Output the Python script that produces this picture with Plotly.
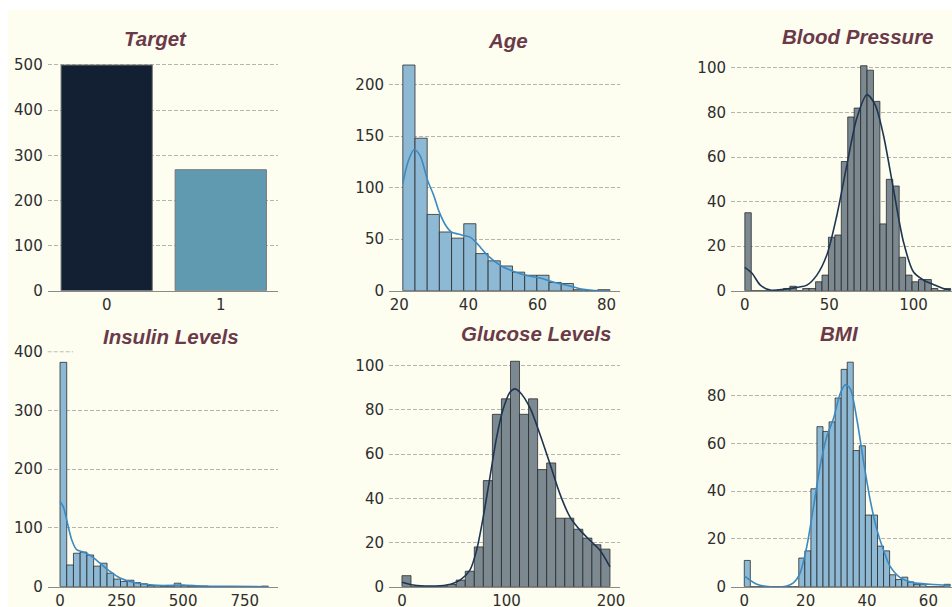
import numpy as np
import plotly.graph_objects as go

W, H = 952, 607
BG = "#FDFDF0"

# ---------------- data ----------------
target_classes = [0, 1]
target_labels = ["0", "1"]
target_counts = [500, 268]

age_limits = (21, 81)
age_counts = [219, 148, 74, 57, 51, 65, 36, 29, 24, 18, 15, 15, 8, 7, 1, 0, 1]
age_kde_x = [21, 22.5, 24.3, 26, 28.2, 30, 31.6, 33.5, 35, 37, 38.8, 40.5, 41.7,
             43.5, 45.6, 49.5, 53.3, 57.2, 61, 65, 68.8, 72.7, 76.5, 81]
age_kde_y = [104, 125, 137, 131, 107, 92, 76, 63, 57, 55, 53.5, 52, 48.6,
             42, 34, 24, 18.5, 14.6, 12, 8, 5, 1.6, 0.2, 0]

bp_limits = (0, 122)
bp_counts = [35, 0, 0, 0, 0, 0, 1, 2, 0, 1, 1, 4, 7, 24, 25, 58, 78, 82, 101, 99,
             85, 30, 50, 47, 15, 7, 4, 5, 5, 1, 0, 1]
bp_kde_x = [0, 4.3, 9.2, 15.1, 23, 30.9, 36.8, 42.7, 48.6, 54.6, 60.5, 66.4, 72.3,
            77.2, 82.1, 88, 94, 99.9, 105.8, 111.7, 117.6, 122]
bp_kde_y = [10.5, 7.8, 2.5, 0.3, 0.6, 1.5, 2.5, 7, 16, 34, 56.5, 77.5, 88,
            83.5, 70, 46, 22, 8.5, 4.8, 2.8, 1, 0.3]

ins_limits = (0, 846)
ins_counts = [382, 37, 57, 59, 54, 35, 40, 23, 13, 9, 11, 7, 5, 2, 2, 1, 1, 6, 2, 1,
              1, 1, 0, 0, 0, 0, 0, 0, 0, 0, 1]
ins_kde_x = [0, 13.5, 27, 47.4, 67.7, 94.8, 128.6, 162.4, 203, 243.6, 284, 338,
             392.6, 460, 500.6, 581.8, 690, 846]
ins_kde_y = [145, 136, 114, 80, 63, 59, 51.6, 40, 26, 14.7, 9, 4.5,
             2.3, 2.3, 2.8, 1, 0.5, 0]

glu_limits = (0, 199)
glu_counts = [5, 0, 0, 0, 0, 1, 3, 7, 18, 48, 78, 85, 102, 78, 85, 53, 56, 31, 31,
              26, 22, 19, 17]
glu_kde_x = [0, 10.8, 26.8, 42.7, 55.5, 65, 71.4, 77.8, 84.2, 90.6, 96.9, 103.3,
             108.1, 112.9, 122.4, 132, 141.6, 151.1, 160.7, 170.3, 179.8, 189.4, 199]
glu_kde_y = [2, 0.75, 0.3, 0.75, 3, 7.5, 16.5, 31.6, 49.6, 67.7, 80.5, 88,
             89.5, 88, 81, 69, 55.6, 42, 31.6, 25.6, 21, 16.5, 9]

bmi_limits = (0, 67.1)
bmi_counts = [11, 0, 0, 0, 0, 0, 0, 0, 0, 12, 15, 41, 67, 65, 69, 79, 91, 94, 57,
              59, 30, 30, 17, 15, 5, 3, 4, 2, 1, 1, 0, 0, 0, 1]
bmi_kde_x = [0, 4.1, 8.5, 13.9, 16.1, 18.2, 20.4, 22.6, 24.7, 26.9, 29.1, 31.3,
             32.9, 34.5, 36.7, 38.8, 41, 43.2, 45.3, 47.5, 50.8, 55.1, 60.5, 64.9, 67.1]
bmi_kde_y = [4.5, 1, 0, 0.3, 1.7, 5.8, 17, 33.7, 50.4, 62.9, 70.5, 81,
             84.5, 83, 70, 53, 36.5, 24, 15.6, 8.6, 3.8, 1.7, 1, 0.7, 0.5]

# ---------------- styling ----------------
TITLE_COLOR = "#6B3A49"
TICK_FONT = dict(family="DejaVu Sans", size=15, color="#2E2E2E")
GRID = dict(gridcolor="rgba(110,110,110,0.5)", gridwidth=1, griddash="4px,2px")
BLUE_FILL, BLUE_LINE = "#8DB9D5", "#3A8AC3"
GRAY_FILL, GRAY_LINE = "#7C8990", "#1D3652"
EDGE = "rgba(35,35,35,0.75)"


def fx(p):
    return p / W


def fy(p):
    return 1 - p / H


panels = [
    dict(title="Target", tx=155, ty=38.5, px=(47.7, 277.7), py=(53.7, 290.7),
         xr=[-0.517, 1.499], yr=[0, 525], xt=[0, 1], yt=[0, 100, 200, 300, 400, 500]),
    dict(title="Age", tx=507.5, ty=41, px=(389, 620), py=(53.7, 290.7),
         xr=[17.0, 83.9], yr=[0, 230], xt=[20, 40, 60, 80], yt=[0, 50, 100, 150, 200]),
    dict(title="Blood Pressure", tx=858, ty=36.3, px=(731, 952), py=(53.7, 290.7),
         xr=[-8.2, 122.8], yr=[0, 106.4], xt=[0, 50, 100], yt=[0, 20, 40, 60, 80, 100]),
    dict(title="Insulin Levels", tx=170.5, ty=336.3, px=(47.7, 277.7), py=(350, 586.7),
         xr=[-50, 884], yr=[0, 403], xt=[0, 250, 500, 750], yt=[0, 100, 200, 300, 400]),
    dict(title="Glucose Levels", tx=536, ty=333.7, px=(389, 620), py=(350, 586.7),
         xr=[-12.4, 208.6], yr=[0, 107.1], xt=[0, 100, 200], yt=[0, 20, 40, 60, 80, 100]),
    dict(title="BMI", tx=839, ty=333.7, px=(731, 952), py=(350, 586.7),
         xr=[-4.33, 67.7], yr=[0, 99.1], xt=[0, 20, 40, 60], yt=[0, 20, 40, 60, 80]),
]

fig = go.Figure()
layout = dict(
    width=W, height=H,
    margin=dict(l=0, r=0, t=0, b=0, pad=0, autoexpand=False),
    paper_bgcolor="white",
    plot_bgcolor="rgba(0,0,0,0)",
    showlegend=False,
    annotations=[],
    shapes=[dict(type="rect", xref="paper", yref="paper", x0=fx(8), x1=1,
                 y0=0, y1=fy(10), fillcolor=BG, line=dict(width=0), layer="below")],
)

for i, p in enumerate(panels, start=1):
    xa = "xaxis" if i == 1 else f"xaxis{i}"
    ya = "yaxis" if i == 1 else f"yaxis{i}"
    xs = "x" if i == 1 else f"x{i}"
    ys = "y" if i == 1 else f"y{i}"
    layout[xa] = dict(
        domain=[fx(p["px"][0]), fx(p["px"][1])], anchor=ys, range=p["xr"],
        tickvals=p["xt"], showgrid=False, zeroline=False, showline=True,
        linecolor="#8A8A8A", linewidth=1.3, ticks="", tickfont=TICK_FONT,
        ticklabelstandoff=0, fixedrange=True, automargin=False,
    )
    layout[ya] = dict(
        domain=[fy(p["py"][1]), fy(p["py"][0])], anchor=xs, range=p["yr"],
        tickvals=p["yt"], showgrid=True, zeroline=False, showline=False,
        ticks="", tickfont=TICK_FONT, ticklabelstandoff=4, fixedrange=True,
        automargin=False, **GRID,
    )
    layout["annotations"].append(dict(
        text=f"<b><i>{p['title']}</i></b>", x=fx(p["tx"]), y=fy(p["ty"]),
        xref="paper", yref="paper", xanchor="center", yanchor="middle",
        showarrow=False,
        font=dict(family="Liberation Sans, Arial", size=20.5, color=TITLE_COLOR),
    ))

layout["xaxis"]["ticktext"] = target_labels

# Insulin panel: grid at 100-300 only, with the short stub at 400
layout["yaxis4"]["showgrid"] = False
layout["yaxis4"]["minor"] = dict(tickvals=[100, 200, 300], showgrid=True, ticks="", **GRID)
layout["shapes"].append(dict(type="line", xref="x4 domain", yref="y4",
                             x0=0, x1=0.11, y0=400, y1=400,
                             line=dict(color="rgba(110,110,110,0.45)", width=1, dash="4px,2px")))

# Target counts
fig.add_trace(go.Bar(
    x=target_classes, y=target_counts, width=0.8,
    marker=dict(color=["#132033", "#5F9AB0"], line=dict(color="#777777", width=1)),
    xaxis="x", yaxis="y",
))


def add_hist(limits, counts, kde_x, kde_y, fill, line, idx):
    edges = np.linspace(limits[0], limits[1], len(counts) + 1)
    centers = (edges[:-1] + edges[1:]) / 2
    width = edges[1] - edges[0]
    xs = f"x{idx}"
    ys = f"y{idx}"
    fig.add_trace(go.Bar(
        x=centers, y=counts, width=width,
        marker=dict(color=fill, line=dict(color=EDGE, width=1)),
        xaxis=xs, yaxis=ys,
    ))
    fig.add_trace(go.Scatter(
        x=kde_x, y=kde_y, mode="lines",
        line=dict(color=line, width=1.6, shape="spline", smoothing=0.8),
        xaxis=xs, yaxis=ys, cliponaxis=True,
    ))


add_hist(age_limits, age_counts, age_kde_x, age_kde_y, BLUE_FILL, BLUE_LINE, 2)
add_hist(bp_limits, bp_counts, bp_kde_x, bp_kde_y, GRAY_FILL, GRAY_LINE, 3)
add_hist(ins_limits, ins_counts, ins_kde_x, ins_kde_y, BLUE_FILL, BLUE_LINE, 4)
add_hist(glu_limits, glu_counts, glu_kde_x, glu_kde_y, GRAY_FILL, GRAY_LINE, 5)
add_hist(bmi_limits, bmi_counts, bmi_kde_x, bmi_kde_y, BLUE_FILL, BLUE_LINE, 6)

fig.update_layout(**layout)
fig.write_html("out.html")
